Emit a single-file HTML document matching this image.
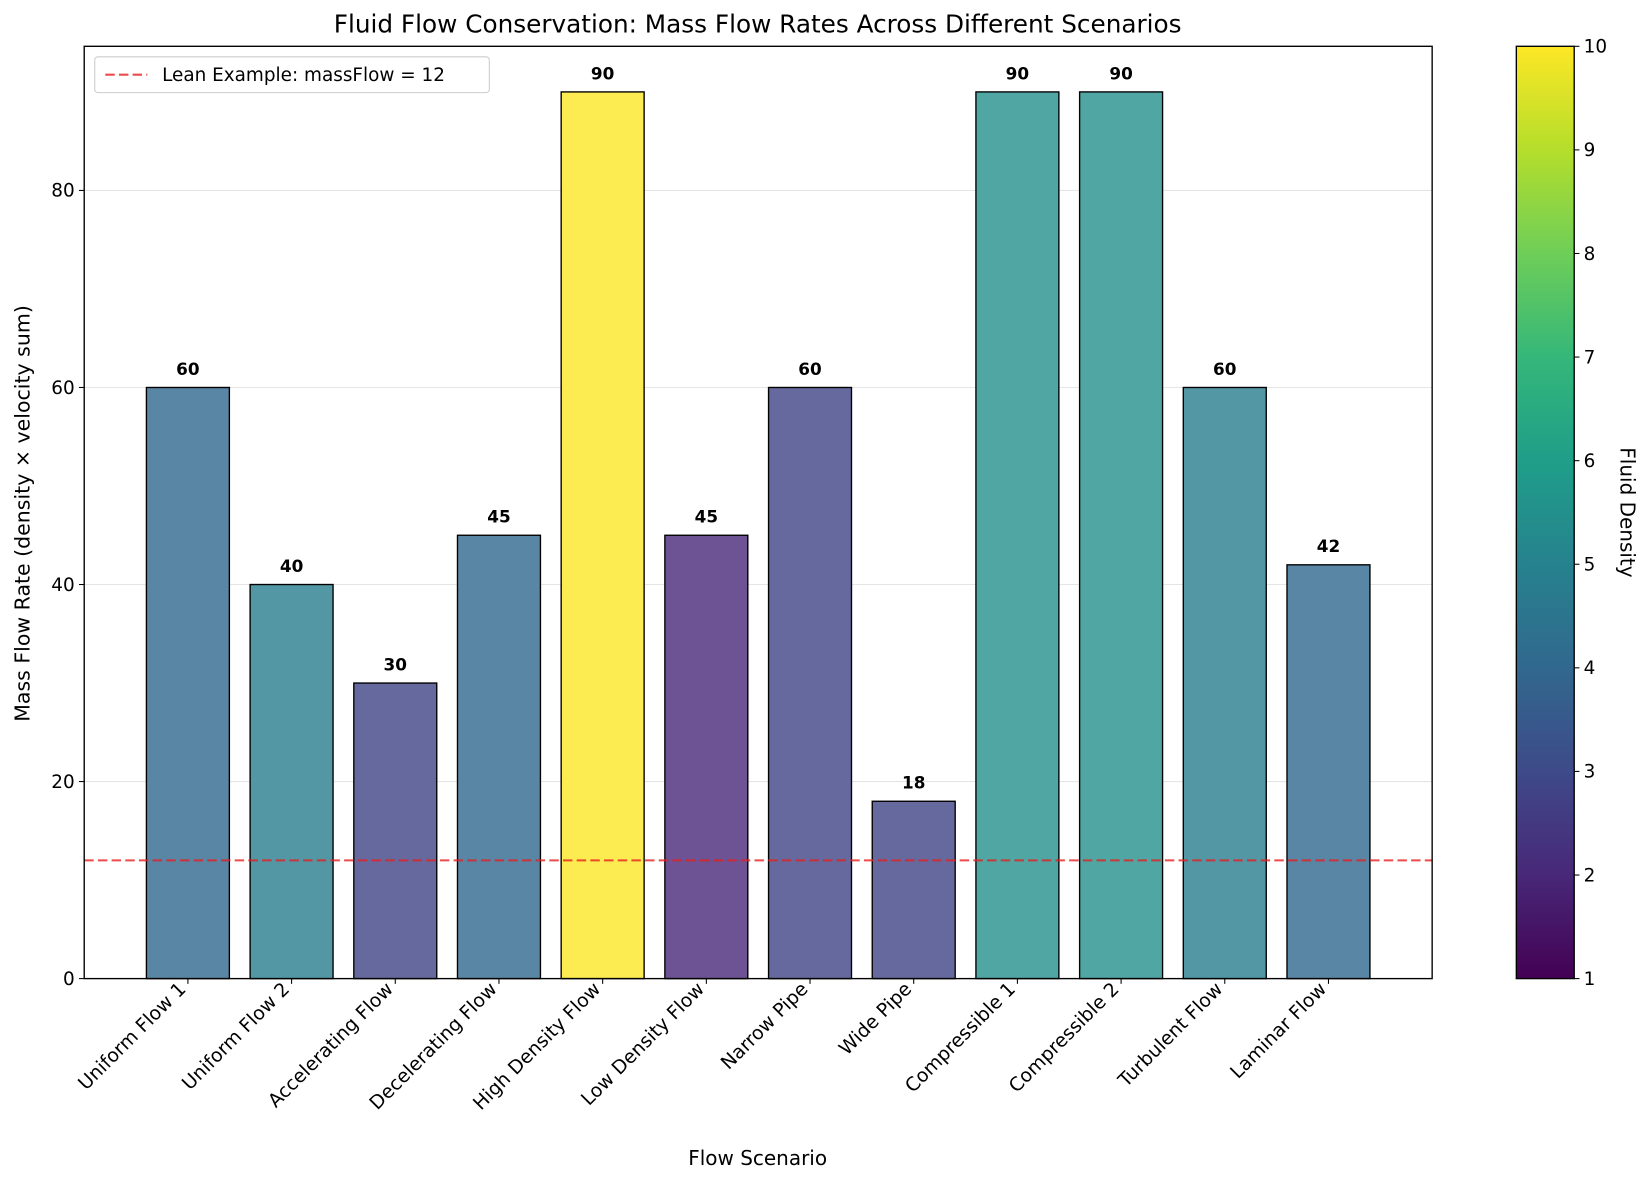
<!DOCTYPE html>
<html><head><meta charset="utf-8"><style>
body{margin:0;background:#fff;font-family:"Liberation Sans","DejaVu Sans",sans-serif}
</style></head><body>
<svg id="c" width="1650" height="1184" viewBox="0 0 1568 1125.2" xmlns="http://www.w3.org/2000/svg" font-family="DejaVu Sans, Liberation Sans, sans-serif"></svg>
<script>
const categories=["Uniform Flow 1","Uniform Flow 2","Accelerating Flow","Decelerating Flow","High Density Flow","Low Density Flow","Narrow Pipe","Wide Pipe","Compressible 1","Compressible 2","Turbulent Flow","Laminar Flow"];
const massFlow=[60,40,30,45,90,45,60,18,90,90,60,42];
const density=[4,4.8,2.8,4,10,2,2.8,2.8,5.5,5.5,4.8,4];
const yTicks=[0,20,40,60,80];
const cbTicks=[1,2,3,4,5,6,7,8,9,10];
const refLine=12;

const svg=document.getElementById('c');const NS="http://www.w3.org/2000/svg";
function el(t,a,txt){const e=document.createElementNS(NS,t);for(const k in a)e.setAttribute(k,a[k]);if(txt!=null)e.textContent=txt;svg.appendChild(e);return e;}
const L=80,R=1361,T=44,B=930,yMax=94.63,xMin=-1,xMax=12;
const y=v=>B-(v/yMax)*(B-T);
const x=i=>L+(i-xMin)/(xMax-xMin)*(R-L);
const bw=0.8*(R-L)/(xMax-xMin);
const vir=[[68,1,84],[72,40,120],[62,74,137],[49,104,142],[38,130,142],[31,158,137],[53,183,121],[110,206,88],[181,222,43],[253,231,37]];
function viridis(t){t=Math.max(0,Math.min(1,t))*9;const i=Math.min(8,Math.floor(t)),f=t-i;return vir[i].map((c,k)=>c+(vir[i+1][k]-c)*f);}
function col(d,a){const c=viridis((d-1)/9);return `rgb(${c.map(v=>Math.round(a*v+(1-a)*255)).join(',')})`;}

let e=el('text',{x:720,y:31,'text-anchor':'middle','font-size':23.5},'Fluid Flow Conservation: Mass Flow Rates Across Different Scenarios');

yTicks.forEach(v=>{
 e=el('line',{x1:L,x2:R,y1:y(v),y2:y(v),stroke:'#e5e5e5','stroke-width':1});
 
 el('line',{x1:L-5,x2:L,y1:y(v),y2:y(v),stroke:'#000'});
 e=el('text',{x:L-9,y:y(v)+6,'text-anchor':'end','font-size':17.5},v);
 
});
categories.forEach((c,i)=>{
 const cx=x(i);
 e=el('rect',{x:cx-bw/2,y:y(massFlow[i]),width:bw,height:B-y(massFlow[i]),fill:col(density[i],0.8),stroke:'#000','stroke-width':1.3});
 
 e=el('text',{x:cx,y:y(massFlow[i])-12,'text-anchor':'middle','font-size':16,'font-weight':'bold'},massFlow[i]);
 
 el('line',{x1:cx,x2:cx,y1:B,y2:B+5,stroke:'#000'});
 e=el('text',{x:cx-1,y:B+11,'text-anchor':'end','font-size':18,transform:`rotate(-45 ${cx-1} ${B+11})`},c);
 
});
e=el('line',{x1:L,x2:R,y1:y(refLine),y2:y(refLine),stroke:'rgba(230,30,30,0.8)','stroke-width':2,'stroke-dasharray':'9,4'});

e=el('rect',{x:L,y:T,width:R-L,height:B-T,fill:'none',stroke:'#000','stroke-width':1.3});

e=el('text',{x:720,y:1107,'text-anchor':'middle','font-size':19},'Flow Scenario');

e=el('text',{x:28,y:488,'text-anchor':'middle','font-size':19.5,transform:'rotate(-90 28 488)'},'Mass Flow Rate (density × velocity sum)');

e=el('rect',{x:90,y:54,width:375,height:34,rx:3,fill:'#fff',stroke:'#ccc'});

el('line',{x1:100,x2:140,y1:71,y2:71,stroke:'rgba(230,30,30,0.8)','stroke-width':2,'stroke-dasharray':'9,4'});
e=el('text',{x:154,y:77,'font-size':17.5},'Lean Example: massFlow = 12');

const cbX=1441,cbW=55;
const cy=v=>B-(v-1)/9*(B-T);
const defs=el('defs',{});const g=document.createElementNS(NS,'linearGradient');g.setAttribute('id','vg');g.setAttribute('x1',0);g.setAttribute('y1',1);g.setAttribute('x2',0);g.setAttribute('y2',0);defs.appendChild(g);
vir.forEach((c,i)=>{const s=document.createElementNS(NS,'stop');s.setAttribute('offset',i/9);s.setAttribute('stop-color',`rgb(${c})`);g.appendChild(s);});
e=el('rect',{x:cbX,y:T,width:cbW,height:B-T,fill:'url(#vg)',stroke:'#000','stroke-width':1.3});

cbTicks.forEach(v=>{
 el('line',{x1:cbX+cbW,x2:cbX+cbW+5,y1:cy(v),y2:cy(v),stroke:'#000'});
 e=el('text',{x:cbX+cbW+9,y:cy(v)+6,'font-size':17.5},v);
 
});
e=el('text',{x:1540,y:487,'text-anchor':'middle','font-size':19,transform:'rotate(90 1540 487)'},'Fluid Density');

</script>
</body></html>
